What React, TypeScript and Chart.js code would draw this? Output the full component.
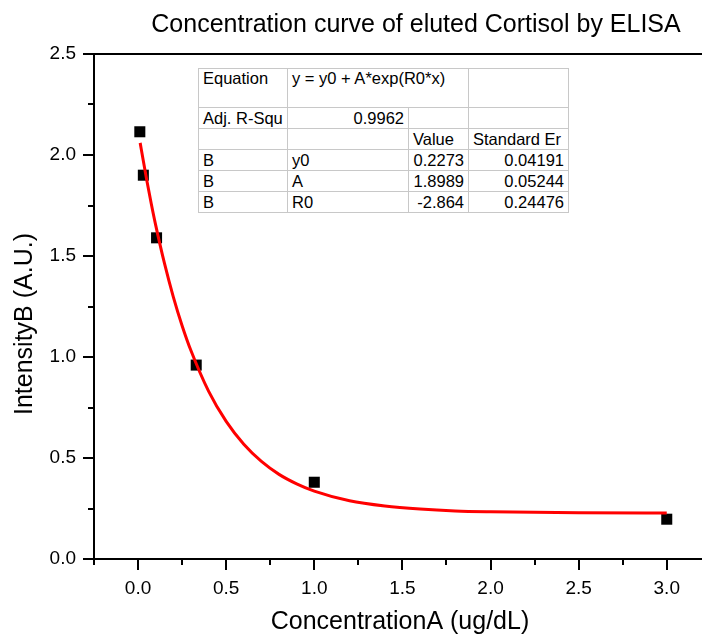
import React, { useEffect, useRef } from "react";
import { Chart, registerables } from "chart.js";

Chart.register(...registerables);

const FONT = "'Liberation Sans', Arial, Helvetica, sans-serif";

// ---- data ----
const chartTitle = "Concentration curve of eluted Cortisol by ELISA";
const xAxisTitle = "ConcentrationA (ug/dL)";
const yAxisTitle = "IntensityB (A.U.)";

const concentration = [0.01, 0.03, 0.105, 0.33, 1.0, 3.0];
const intensity = [2.115, 1.9, 1.59, 0.96, 0.38, 0.197];

const fitX = [0.012, 0.03, 0.05, 0.075, 0.1, 0.15, 0.2, 0.25, 0.3, 0.4, 0.5, 0.6, 0.7, 0.8, 0.9, 1.0, 1.2, 1.4, 1.6, 1.8, 2.0, 2.5, 3.0];
const fitY = [2.06, 1.97, 1.873, 1.759, 1.653, 1.463, 1.298, 1.155, 1.032, 0.831, 0.681, 0.568, 0.483, 0.419, 0.372, 0.336, 0.288, 0.262, 0.247, 0.238, 0.234, 0.229, 0.228];

const xTickValues = [-0.25, 0, 0.25, 0.5, 0.75, 1.0, 1.25, 1.5, 1.75, 2.0, 2.25, 2.5, 2.75, 3.0];
const xLabelValues = [0, 0.5, 1.0, 1.5, 2.0, 2.5, 3.0];
const yTickValues = [0, 0.25, 0.5, 0.75, 1.0, 1.25, 1.5, 1.75, 2.0, 2.25, 2.5];
const yLabelValues = [0, 0.5, 1.0, 1.5, 2.0, 2.5];

const tableRows: { cells: string[]; spans?: number[]; align?: string[] }[] = [
  { cells: ["Equation", "y = y0 + A*exp(R0*x)", ""], spans: [1, 2, 1], align: ["left", "left", "left"] },
  { cells: ["Adj. R-Squ", "0.9962", "", ""], align: ["left", "right", "left", "left"] },
  { cells: ["", "", "Value", "Standard Er"], align: ["left", "left", "left", "left"] },
  { cells: ["B", "y0", "0.2273", "0.04191"], align: ["left", "left", "right", "right"] },
  { cells: ["B", "A", "1.8989", "0.05244"], align: ["left", "left", "right", "right"] },
  { cells: ["B", "R0", "-2.864", "0.24476"], align: ["left", "left", "right", "right"] },
];

const isIn = (arr: number[], v: number) => arr.some((a) => Math.abs(a - v) < 1e-9);

const decoPlugin = {
  id: "deco",
  afterDraw(chart: any) {
    const { ctx, chartArea: a, scales } = chart;
    const xs = scales.x;
    const ys = scales.y;
    const L = Math.round(a.left);
    const R = Math.round(a.right);
    const T = Math.round(a.top);
    const B = Math.round(a.bottom);
    ctx.save();
    ctx.strokeStyle = "#000";
    ctx.lineWidth = 2;
    ctx.lineCap = "butt";
    ctx.beginPath();
    ctx.moveTo(L, T - 1);
    ctx.lineTo(L, B + 1);
    ctx.moveTo(L - 1, B);
    ctx.lineTo(R, B);
    ctx.moveTo(L - 1, T);
    ctx.lineTo(R, T);
    for (const v of xTickValues) {
      const px = Math.round(xs.getPixelForValue(v));
      const len = isIn(xLabelValues, v) ? 11 : 6;
      ctx.moveTo(px, B);
      ctx.lineTo(px, B + len);
    }
    for (const v of yTickValues) {
      const py = Math.round(ys.getPixelForValue(v));
      const len = isIn(yLabelValues, v) ? 11 : 6;
      ctx.moveTo(L - len, py);
      ctx.lineTo(L, py);
    }
    ctx.stroke();

    ctx.fillStyle = "#000";
    ctx.textAlign = "center";
    ctx.textBaseline = "middle";
    ctx.font = `25px ${FONT}`;
    ctx.fillText(chartTitle, 416, 25);
    ctx.fillText(xAxisTitle, (L + R) / 2 + 2, 622);
    ctx.translate(25, 324);
    ctx.rotate(-Math.PI / 2);
    ctx.fillText(yAxisTitle, 0, 0);
    ctx.restore();
  },
};

export default function App() {
  const ref = useRef<HTMLCanvasElement>(null);

  useEffect(() => {
    document.body.style.margin = "0";
    const canvas = ref.current;
    if (!canvas) return;
    const chart = new Chart(canvas, {
      type: "scatter",
      data: {
        datasets: [
          {
            label: "fit",
            data: fitX.map((x, i) => ({ x, y: fitY[i] })),
            showLine: true,
            borderColor: "#ff0000",
            backgroundColor: "#ff0000",
            borderWidth: 3,
            pointRadius: 0,
            cubicInterpolationMode: "monotone",
            order: 0,
          } as any,
          {
            label: "B",
            data: concentration.map((x, i) => ({ x, y: intensity[i] })),
            showLine: false,
            pointStyle: "rect",
            pointRadius: 7.8,
            pointBackgroundColor: "#000",
            pointBorderColor: "#000",
            pointBorderWidth: 0,
            order: 1,
          } as any,
        ],
      },
      options: {
        responsive: false,
        maintainAspectRatio: false,
        animation: false,
        devicePixelRatio: 1,
        layout: { autoPadding: false, padding: { top: 54, right: 0, left: 0, bottom: 0 } },
        plugins: {
          legend: { display: false },
          tooltip: { enabled: false },
          title: { display: false },
        },
        events: [],
        scales: {
          x: {
            type: "linear",
            min: -0.25,
            max: 3.2,
            afterBuildTicks: (s: any) => {
              s.ticks = xTickValues.map((v) => ({ value: v }));
            },
            afterFit: (s: any) => {
              s.height = 77;
              s.paddingLeft = 0;
              s.paddingRight = 0;
            },
            grid: { display: false, drawTicks: false },
            border: { display: false },
            ticks: {
              autoSkip: false,
              maxRotation: 0,
              padding: 18,
              color: "#000",
              font: { family: FONT, size: 19 },
              callback: (v: any) => (isIn(xLabelValues, Number(v)) ? Number(v).toFixed(1) : ""),
            },
          },
          y: {
            type: "linear",
            min: 0,
            max: 2.5,
            afterBuildTicks: (s: any) => {
              s.ticks = yTickValues.map((v) => ({ value: v }));
            },
            afterFit: (s: any) => {
              s.width = 94;
              s.paddingTop = 0;
              s.paddingBottom = 0;
            },
            grid: { display: false, drawTicks: false },
            border: { display: false },
            ticks: {
              autoSkip: false,
              padding: 18,
              color: "#000",
              font: { family: FONT, size: 19 },
              callback: (v: any) => (isIn(yLabelValues, Number(v)) ? Number(v).toFixed(1) : ""),
            },
          },
        },
      },
      plugins: [decoPlugin as any],
    });
    return () => chart.destroy();
  }, []);

  const colWidths = [89, 121, 60, 100];
  const rowHeights = [39, 21, 21, 21, 21, 21];

  return (
    <div style={{ position: "relative", width: 702, height: 636, background: "#fff", overflow: "hidden" }}>
      <canvas ref={ref} width={702} height={636} style={{ display: "block", width: 702, height: 636 }} />
      <table
        style={{
          position: "absolute",
          left: 198,
          top: 68,
          borderCollapse: "collapse",
          tableLayout: "fixed",
          width: 370,
          background: "#fff",
          border: "1px solid #555",
          fontFamily: FONT,
          fontSize: 16.5,
          color: "#000",
        }}
      >
        <colgroup>
          {colWidths.map((w, i) => (
            <col key={i} style={{ width: w }} />
          ))}
        </colgroup>
        <tbody>
          {tableRows.map((row, ri) => (
            <tr key={ri} style={{ height: rowHeights[ri] }}>
              {row.cells.map((c, ci) => (
                <td
                  key={ci}
                  colSpan={row.spans ? row.spans[ci] : 1}
                  style={{
                    border: "1px solid #c8c8c8",
                    padding: "0 4px",
                    textAlign: (row.align ? row.align[ci] : "left") as any,
                    verticalAlign: ri === 0 ? "top" : "middle",
                    whiteSpace: "nowrap",
                    overflow: "hidden",
                    lineHeight: "19px",
                    height: rowHeights[ri],
                    boxSizing: "border-box",
                  }}
                >
                  {c}
                </td>
              ))}
            </tr>
          ))}
        </tbody>
      </table>
    </div>
  );
}
